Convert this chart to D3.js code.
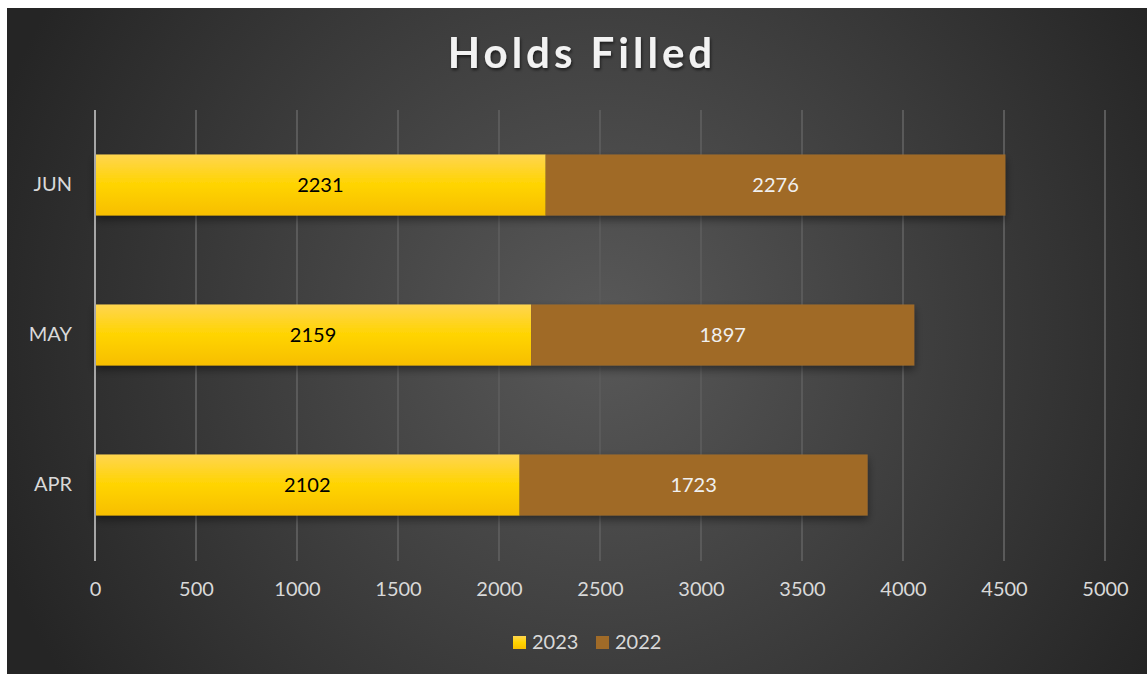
<!DOCTYPE html>
<html>
<head>
<meta charset="utf-8">
<script src="https://cdn.jsdelivr.net/npm/d3@7"></script>
<style>
  body { margin: 0; background: #ffffff; }
  svg { display: block; }
  text { font-family: "Lato", "Open Sans", sans-serif; }
</style>
</head>
<body>
<div id="chart"></div>
<script>
// data
const months = ["APR", "MAY", "JUN"];
const series = ["2023", "2022"];
const values2023 = [2102, 2159, 2231];
const values2022 = [1723, 1897, 2276];
const xTicks = [0, 500, 1000, 1500, 2000, 2500, 3000, 3500, 4000, 4500, 5000];
const colors = ["#ffd200", "#a06b28"];

const W = 1147, H = 674;
const margin = { top: 110, right: 42, bottom: 114, left: 95 };
const width = 1010,
    height = H - margin.top - margin.bottom;

const rows = months.map((m, i) => ({ month: m, "2023": values2023[i], "2022": values2022[i] }));

const root = d3.select("#chart")
    .append("svg")
    .attr("width", W)
    .attr("height", H);

const defs = root.append("defs");

// background gradient
const bg = defs.append("radialGradient")
    .attr("id", "bg")
    .attr("gradientUnits", "userSpaceOnUse")
    .attr("cx", 600).attr("cy", 330).attr("r", 640);
bg.append("stop").attr("offset", "0%").attr("stop-color", "#595959");
bg.append("stop").attr("offset", "100%").attr("stop-color", "#252525");

// yellow bar gradient
const yg = defs.append("linearGradient")
    .attr("id", "yellow")
    .attr("x1", 0).attr("y1", 0).attr("x2", 0).attr("y2", 1);
yg.append("stop").attr("offset", "0%").attr("stop-color", "#ffd54f");
yg.append("stop").attr("offset", "50%").attr("stop-color", "#ffd400");
yg.append("stop").attr("offset", "100%").attr("stop-color", "#f7be00");

const shadow = defs.append("filter").attr("id", "shadow")
    .attr("x", "-5%").attr("y", "-20%").attr("width", "110%").attr("height", "160%");
shadow.append("feDropShadow")
    .attr("dx", 0).attr("dy", 4).attr("stdDeviation", 4)
    .attr("flood-color", "#000").attr("flood-opacity", 0.45);

const tshadow = defs.append("filter").attr("id", "tshadow");
tshadow.append("feDropShadow")
    .attr("dx", 1).attr("dy", 2).attr("stdDeviation", 1.5)
    .attr("flood-color", "#000").attr("flood-opacity", 0.6);

root.append("rect")
    .attr("x", 7).attr("y", 8)
    .attr("width", W - 7).attr("height", H - 8)
    .attr("fill", "url(#bg)");

// title
root.append("text")
    .attr("x", 582).attr("y", 68)
    .attr("text-anchor", "middle")
    .attr("fill", "#f2f2f2")
    .attr("font-size", 42)
    .attr("font-weight", "bold")
    .attr("letter-spacing", 4)
    .attr("filter", "url(#tshadow)")
    .text("Holds Filled");

const svg = root.append("g")
    .attr("transform", `translate(${margin.left},${margin.top})`);

const x = d3.scaleLinear()
    .domain([0, 5000])
    .range([0, width]);

const y = d3.scaleBand()
    .domain(months.slice().reverse())
    .range([0, height])
    .paddingInner(0.593)
    .paddingOuter(0.2965);

// gridlines
svg.append("g")
    .selectAll("line")
    .data(xTicks.slice(1))
    .join("line")
    .attr("x1", d => x(d)).attr("x2", d => x(d))
    .attr("y1", 0).attr("y2", height + 1)
    .attr("stroke", "#5a5a5a")
    .attr("stroke-width", 2);

// x axis labels
const xAxis = svg.append("g")
    .attr("transform", `translate(0, ${height})`)
    .call(d3.axisBottom(x).tickValues(xTicks).tickSize(0).tickPadding(22).tickFormat(d3.format("d")));
xAxis.select(".domain").remove();
xAxis.selectAll("text")
    .attr("fill", "#d9d9d9")
    .attr("font-size", 20)
    .style("font-family", "Lato, sans-serif");

// y axis labels
const yAxis = svg.append("g")
    .call(d3.axisLeft(y).tickSize(0).tickPadding(23));
yAxis.select(".domain").remove();
yAxis.selectAll("text")
    .attr("fill", "#d9d9d9")
    .attr("font-size", 20)
    .style("font-family", "Lato, sans-serif");

// stacked bars
const stacked = d3.stack().keys(series)(rows);
const fills = { "2023": "url(#yellow)", "2022": colors[1] };

svg.append("g")
    .attr("filter", "url(#shadow)")
    .selectAll("g")
    .data(stacked)
    .join("g")
    .attr("fill", d => fills[d.key])
    .selectAll("rect")
    .data(d => d)
    .join("rect")
    .attr("x", d => x(d[0]))
    .attr("y", d => y(d.data.month))
    .attr("width", d => x(d[1]) - x(d[0]))
    .attr("height", y.bandwidth());

// value labels
svg.append("g")
    .selectAll("g")
    .data(stacked)
    .join("g")
    .attr("fill", d => d.key === "2023" ? "#000000" : "#f0f0f0")
    .selectAll("text")
    .data(d => d.map(p => ({ p: p, key: d.key })))
    .join("text")
    .attr("x", d => (x(d.p[0]) + x(d.p[1])) / 2)
    .attr("y", d => y(d.p.data.month) + y.bandwidth() / 2)
    .attr("dy", "0.35em")
    .attr("text-anchor", "middle")
    .attr("font-size", 20)
    .text(d => d.p.data[d.key]);

// vertical axis line
svg.append("line")
    .attr("x1", 0).attr("x2", 0)
    .attr("y1", 0).attr("y2", height + 1)
    .attr("stroke", "#a6a6a6")
    .attr("stroke-width", 2);

// legend
const legend = root.append("g").attr("transform", "translate(513, 642)");
const legItems = legend.selectAll("g")
    .data(series)
    .join("g")
    .attr("transform", (d, i) => `translate(${i * 83}, 0)`);
legItems.append("rect")
    .attr("x", 0).attr("y", -6)
    .attr("width", 13).attr("height", 13)
    .attr("fill", (d, i) => i === 0 ? "url(#yellow)" : colors[1]);
legItems.append("text")
    .attr("x", 19).attr("y", 0)
    .attr("dy", "0.35em")
    .attr("fill", "#d9d9d9")
    .attr("font-size", 20)
    .text(d => d);
</script>
</body>
</html>
